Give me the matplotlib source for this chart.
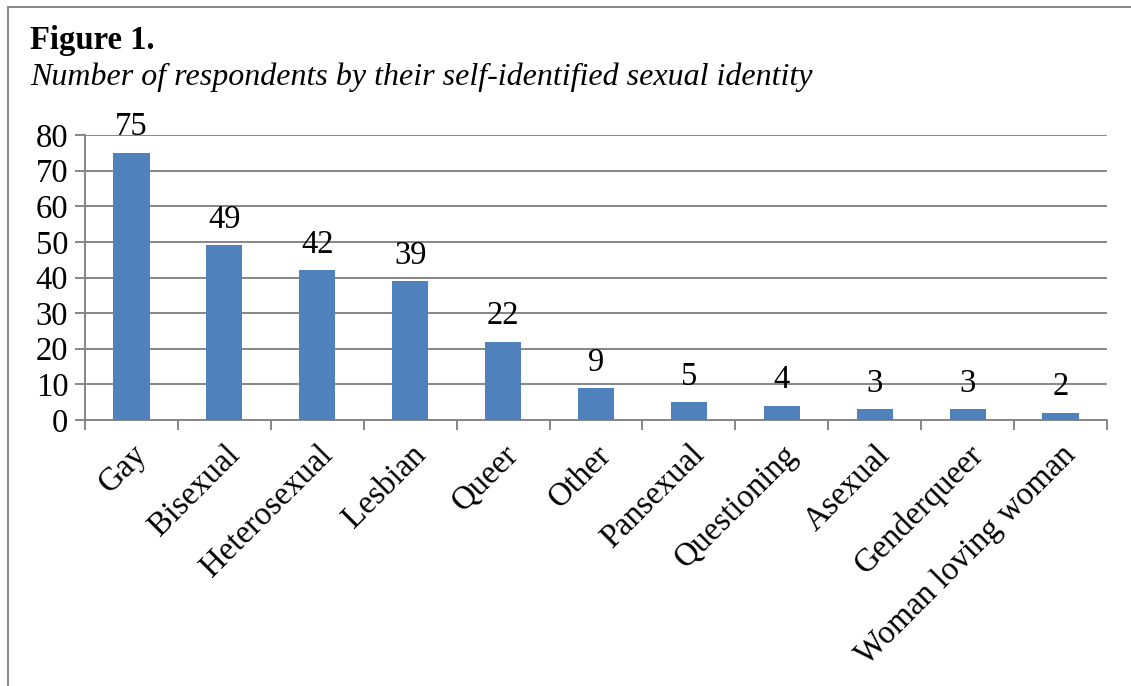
import matplotlib.pyplot as plt
import numpy as np

# Figure 1 - respondents by self-identified sexual identity
identities = ['Gay', 'Bisexual', 'Heterosexual', 'Lesbian', 'Queer', 'Other',
              'Pansexual', 'Questioning', 'Asexual', 'Genderqueer',
              'Woman loving woman']
counts = [75, 49, 42, 39, 22, 9, 5, 4, 3, 3, 2]
y_ticks = [0, 10, 20, 30, 40, 50, 60, 70, 80]

plt.rcParams['font.family'] = ['Liberation Serif', 'DejaVu Serif']
FS = 23.5

fig = plt.figure(figsize=(11.31, 6.86), dpi=100)
W, H = 1131, 686
ax = fig.add_axes([85 / W, 1 - 420 / H, (1107 - 85) / W, (420 - 135) / H])

x = np.arange(len(identities))
bars = ax.bar(x, counts, width=0.39, color='#4F81BD', zorder=3)

ax.set_xlim(-0.5, len(identities) - 0.5)
ax.set_ylim(0, 80)
ax.set_yticks(y_ticks)
ax.set_yticklabels([str(t) for t in y_ticks], fontsize=FS)
ax.yaxis.grid(True, color='#868686', linewidth=1.4, zorder=0)

# category boundary ticks
ax.set_xticks(np.arange(len(identities) + 1) - 0.5)
ax.set_xticklabels([])
ax.set_xticks(x, minor=True)
ax.set_xticklabels(identities, minor=True, rotation=45, ha='right',
                   rotation_mode='anchor', fontsize=FS)
ax.tick_params(axis='x', which='minor', length=0, pad=14)
ax.tick_params(axis='x', which='major', length=7, width=1.4, color='#868686', direction='out')
ax.tick_params(axis='y', length=7, width=1.4, color='#868686', pad=5)

for s in ['top', 'right']:
    ax.spines[s].set_visible(False)
for s in ['left', 'bottom']:
    ax.spines[s].set_color('#868686')
    ax.spines[s].set_linewidth(1.4)

for xi, v in zip(x, counts):
    ax.annotate(str(v), (xi, v), xytext=(0, 7.5), textcoords='offset points',
                ha='center', va='bottom', fontsize=FS)

fig.text(30 / W, 1 - 40 / H, 'Figure 1.', fontsize=FS, fontweight='bold', va='center')
fig.text(30 / W, 1 - 77 / H, 'Number of respondents by their self-identified sexual identity',
         fontsize=23, style='italic', va='center')

# frame lines around the figure
fig.add_artist(plt.Line2D([8 / W, 8 / W], [0, 1 - 7 / H], color='#868686', linewidth=1.4))
fig.add_artist(plt.Line2D([8 / W, 1], [1 - 7 / H, 1 - 7 / H], color='#868686', linewidth=1.4))

fig.savefig('out.png', dpi=100)
